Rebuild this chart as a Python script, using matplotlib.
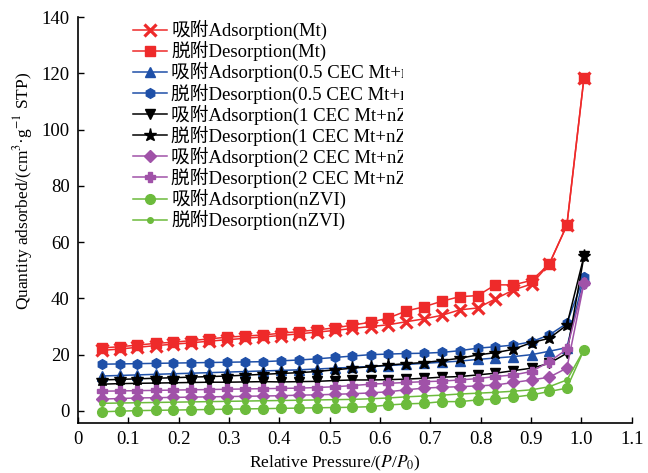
import matplotlib
matplotlib.use("Agg")
import matplotlib.pyplot as plt
from matplotlib.transforms import Bbox

plt.rcParams['font.family'] = ['Liberation Serif', 'Noto Sans CJK SC']
plt.rcParams['mathtext.fontset'] = 'stix'

# relative pressure P/P0
x = [0.047, 0.083, 0.118, 0.154, 0.189, 0.225, 0.261, 0.296, 0.332, 0.367,
     0.403, 0.439, 0.474, 0.510, 0.545, 0.581, 0.616, 0.652, 0.687, 0.723,
     0.758, 0.794, 0.829, 0.865, 0.901, 0.936, 0.971, 1.005]

mt_ads = [21.5, 22.0, 22.6, 23.2, 23.7, 24.2, 24.8, 25.3, 25.8, 26.3, 26.8, 27.4, 28.0, 28.6,
          29.3, 30.0, 30.6, 31.7, 32.7, 34.0, 35.9, 36.6, 39.8, 43.0, 45.1, 52.2, 66.0, 118.4]
mt_des = [22.4, 22.8, 23.4, 24.0, 24.4, 25.0, 25.6, 26.2, 26.6, 27.0, 27.6, 28.2, 28.8, 29.5,
          30.5, 31.5, 33.0, 35.5, 37.0, 39.0, 40.6, 41.0, 44.8, 44.8, 46.4, 52.2, 66.0, 118.4]
c05_ads = [12.4, 12.6, 12.8, 13.0, 13.2, 13.4, 13.6, 13.8, 14.0, 14.2, 14.4, 14.6, 14.9, 15.2,
           15.5, 15.8, 16.1, 16.5, 16.9, 17.3, 17.7, 18.3, 18.8, 19.3, 20.0, 21.2, 22.5, 47.7]
c05_des = [16.6, 16.7, 16.8, 16.9, 17.0, 17.1, 17.2, 17.3, 17.4, 17.5, 17.8, 18.1, 18.5, 19.0,
           19.5, 20.0, 20.2, 20.4, 20.5, 20.8, 21.4, 22.3, 22.8, 23.4, 24.6, 27.0, 31.1, 47.7]
c1_ads = [9.5, 9.7, 9.8, 9.9, 10.0, 10.1, 10.2, 10.2, 10.3, 10.4, 10.3, 10.4, 10.5, 10.8,
          11.0, 11.0, 11.1, 11.3, 11.6, 12.0, 12.2, 12.8, 13.4, 14.3, 15.2, 16.9, 20.5, 55.0]
c1_des = [11.0, 11.2, 11.4, 11.6, 11.8, 12.0, 12.2, 12.4, 12.7, 13.0, 13.3, 13.6, 14.0, 14.6,
          15.2, 15.7, 16.3, 16.8, 17.2, 17.9, 18.7, 19.9, 20.7, 21.9, 24.3, 25.8, 30.5, 55.0]
c2_ads = [4.2, 4.4, 4.6, 4.7, 4.8, 4.9, 5.0, 5.1, 5.2, 5.3, 5.4, 5.6, 5.7, 5.9,
          6.1, 6.4, 6.8, 7.5, 8.1, 8.4, 8.6, 8.9, 9.2, 10.1, 11.0, 12.0, 15.2, 45.4]
c2_des = [7.0, 7.1, 7.2, 7.3, 7.4, 7.5, 7.6, 7.7, 7.8, 7.9, 8.0, 8.1, 8.3, 8.6,
          9.0, 9.5, 9.8, 10.1, 10.4, 10.6, 11.0, 11.5, 12.2, 12.8, 14.0, 17.5, 21.9, 45.4]
nzvi_ads = [-0.3, -0.1, 0.1, 0.2, 0.3, 0.4, 0.5, 0.6, 0.7, 0.8, 0.9, 1.0, 1.1, 1.2,
            1.3, 1.5, 2.1, 2.5, 2.7, 3.3, 3.3, 3.9, 4.2, 4.9, 5.7, 6.9, 8.1, 21.7]
nzvi_des = [2.7, 2.8, 2.9, 3.0, 3.1, 3.2, 3.3, 3.4, 3.5, 3.6, 3.7, 3.8, 3.9, 4.0,
            4.1, 4.3, 4.6, 5.0, 5.3, 5.6, 6.0, 6.3, 6.6, 7.0, 7.5, 8.6, 11.0, 21.7]

labels = ['吸附Adsorption(Mt)', '脱附Desorption(Mt)',
          '吸附Adsorption(0.5 CEC Mt+nZVI)', '脱附Desorption(0.5 CEC Mt+nZVI)',
          '吸附Adsorption(1 CEC Mt+nZVI)', '脱附Desorption(1 CEC Mt+nZVI)',
          '吸附Adsorption(2 CEC Mt+nZVI)', '脱附Desorption(2 CEC Mt+nZVI)',
          '吸附Adsorption(nZVI)', '脱附Desorption(nZVI)']

red = '#ee2a2a'
blue = '#1f50a8'
purple = '#a052a8'
green = '#6cbb3c'

series = [
    (mt_ads, red, 'x', 8, 2.3),
    (mt_des, red, 's', 6.5, 1),
    (c05_ads, blue, '^', 7, 1),
    (c05_des, blue, 'h', 7, 1),
    (c1_ads, 'black', 'v', 7, 1),
    (c1_des, 'black', '*', 9.5, 1),
    (c2_ads, purple, 'D', 6, 1),
    (c2_des, purple, 'P', 7, 1),
    (nzvi_ads, green, 'o', 7, 1),
    (nzvi_des, green, 'o', 4, 1),
]

fig = plt.figure(figsize=(6.48, 4.73), dpi=100)
ax = fig.add_axes([0.1204, 0.1057, 0.8546, 0.8583])

for (y, c, m, ms, mew), lab in zip(series, labels):
    ax.plot(x, y, color=c, marker=m, markersize=ms, markeredgewidth=mew,
            linewidth=1.1, label=lab)

ax.set_xlim(0, 1.1)
ax.set_ylim(-4.3, 140)
ax.set_xticks([0, 0.1, 0.2, 0.3, 0.4, 0.5, 0.6, 0.7, 0.8, 0.9, 1.0, 1.1])
ax.set_xticklabels(['0', '0.1', '0.2', '0.3', '0.4', '0.5', '0.6', '0.7', '0.8', '0.9', '1.0', '1.1'])
ax.set_yticks([0, 20, 40, 60, 80, 100, 120, 140])
ax.tick_params(direction='in', length=4, width=1, labelsize=13.5)
ax.tick_params(axis='x', pad=6)
ax.tick_params(axis='y', pad=6)
ax.spines['top'].set_visible(False)
ax.spines['right'].set_visible(False)
for s in ['left', 'bottom']:
    ax.spines[s].set_linewidth(1.2)

ax.set_xlabel('Relative Pressure/($P$/$P_0$)', fontsize=12.5)
ax.xaxis.set_label_coords((335 - 78) / 554, -0.076)
ax.set_ylabel('Quantity adsorbed/(cm$^3$·g$^{-1}$ STP)', fontsize=12.5)
ax.yaxis.set_label_coords(-0.078, 0.571)

leg = ax.legend(loc='upper left', bbox_to_anchor=(133 / 648, 1 - 20 / 473),
                bbox_transform=fig.transFigure, frameon=False, fontsize=13.5,
                handlelength=1.8, handletextpad=0.25, labelspacing=0.05,
                borderpad=0, borderaxespad=0)
clip = Bbox([[0, 0], [403, 473]])
for t in leg.get_texts():
    t.set_clip_box(clip)
    t.set_clip_on(True)

fig.savefig('out.png', dpi=100)
